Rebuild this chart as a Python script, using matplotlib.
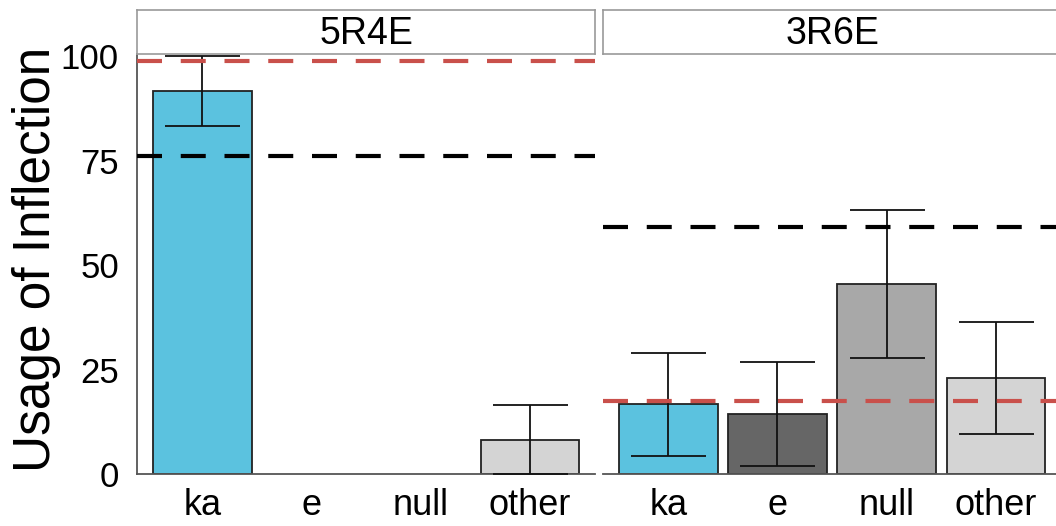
import matplotlib
matplotlib.use("Agg")
import matplotlib.pyplot as plt

plt.rcParams['font.family'] = ['Liberation Sans', 'DejaVu Sans']

categories = ["ka", "e", "null", "other"]
panels = ["5R4E", "3R6E"]
values = {
    "5R4E": [91.7, 0, 0, 8.1],
    "3R6E": [16.7, 14.4, 45.5, 23.0],
}
err_low = {
    "5R4E": [83.3, None, None, 0.0],
    "3R6E": [4.3, 1.9, 27.8, 9.6],
}
err_high = {
    "5R4E": [100.0, None, None, 16.5],
    "3R6E": [28.9, 26.8, 63.2, 36.4],
}
black_line = {"5R4E": 76.0, "3R6E": 59.1}
red_line = {"5R4E": 98.8, "3R6E": 17.5}
colors = ["#5BC2DF", "#666666", "#A8A8A8", "#D4D4D4"]
yticks = [0, 25, 50, 75, 100]

fig = plt.figure(figsize=(10.56, 5.26), dpi=100)
W, H = 1056, 526
lefts = [137, 603]
pw = 458
top, bottom = 54, 474

for i, p in enumerate(panels):
    ax = fig.add_axes([lefts[i] / W, (H - bottom) / H, pw / W, (bottom - top) / H])
    x = list(range(1, 5))
    vals = values[p]
    for xi, v, c in zip(x, vals, colors):
        if v > 0:
            ax.bar(xi, v, width=0.9, color=c, edgecolor="#222222", linewidth=1.3, zorder=2)
    for xi, lo, hi, v in zip(x, err_low[p], err_high[p], vals):
        if lo is None:
            continue
        ax.errorbar(xi, v, yerr=[[v - lo], [hi - v]], fmt="none", ecolor="#111111",
                    elinewidth=1.3, capsize=27, capthick=1.3, zorder=3, clip_on=True)
    ax.axhline(black_line[p], color="black", linewidth=3, dashes=(6, 4.5), zorder=4)
    ax.axhline(red_line[p], color="#C9504B", linewidth=3, dashes=(6, 4.5), zorder=4)
    ax.set_xlim(0.4, 4.6)
    ax.set_ylim(0, 100.5)
    ax.set_xticks(x)
    ax.set_xticklabels(categories, fontsize=26)
    for s in ["top", "right"]:
        ax.spines[s].set_visible(False)
    ax.spines["bottom"].set_color("#555555")
    ax.spines["bottom"].set_linewidth(1.3)
    ax.tick_params(axis="x", length=0, pad=10)
    if i == 0:
        ax.spines["left"].set_color("#555555")
        ax.spines["left"].set_linewidth(1.3)
        ax.set_yticks(yticks)
        ax.set_yticklabels([str(t) for t in yticks], fontsize=25)
        ax.tick_params(axis="y", length=0, pad=13)
        ax.set_ylabel("Usage of Inflection", fontsize=37)
        ax.yaxis.set_label_coords(-76 / pw, 0.51)
    else:
        ax.spines["left"].set_visible(False)
        ax.set_yticks([])
    # facet strip
    sax = fig.add_axes([lefts[i] / W, (H - top) / H, pw / W, 44 / H])
    sax.set_xlim(0, 1)
    sax.set_ylim(0, 1)
    sax.set_xticks([])
    sax.set_yticks([])
    for s in sax.spines.values():
        s.set_color("#999999")
        s.set_linewidth(1.2)
    sax.text(0.5, 0.45, p, ha="center", va="center", fontsize=27)

fig.savefig("out.png", dpi=100)
